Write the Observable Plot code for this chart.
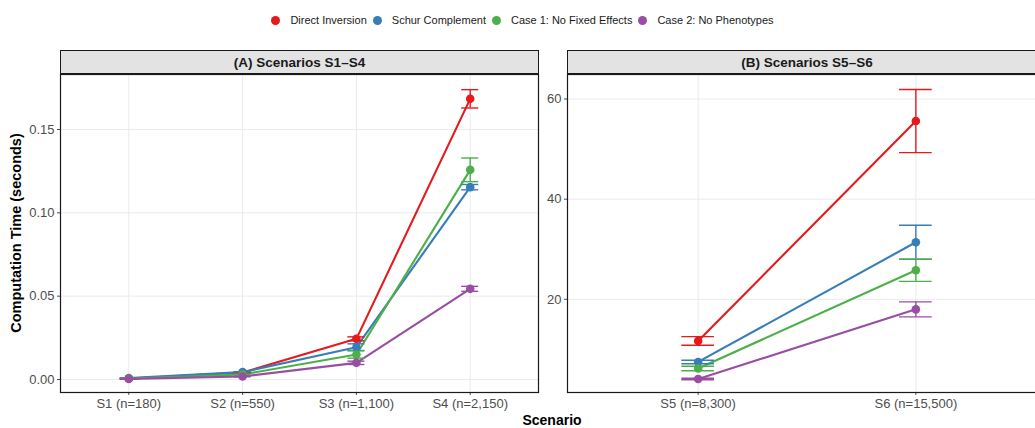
<!DOCTYPE html>
<html>
<head>
<meta charset="utf-8">
<script src="https://cdn.jsdelivr.net/npm/d3@7"></script>
<script src="https://cdn.jsdelivr.net/npm/@observablehq/plot@0.6"></script>
<style>
  html, body { margin: 0; padding: 0; background: #fff; }
  #wrap { position: relative; width: 1035px; height: 428px; overflow: hidden; font-family: "Liberation Sans", Arial, Helvetica, sans-serif; }
  .abs { position: absolute; }
  .strip { position: absolute; box-sizing: border-box; border: 1.2px solid #1a1a1a; background: #E3E3E3; font-weight: bold; font-size: 13.5px; color: #1a1a1a; display: flex; align-items: center; justify-content: center; }
  #legend { position: absolute; top: 14px; left: 10px; width: 1025px; display: flex; justify-content: center; align-items: center; font-size: 11px; color: #1a1a1a; }
  .li { display: flex; align-items: center; margin: 0 3px; }
  .dot { width: 9px; height: 9px; border-radius: 50%; margin-right: 10px; }
</style>
</head>
<body>
<div id="wrap"></div>
<script>
const methods = ["Direct Inversion", "Schur Complement", "Case 1: No Fixed Effects", "Case 2: No Phenotypes"];
const colors = ["#E41A1C", "#377EB8", "#4DAF4A", "#984EA3"];

const scenariosA = ["S1 (n=180)", "S2 (n=550)", "S3 (n=1,100)", "S4 (n=2,150)"];
const scenariosB = ["S5 (n=8,300)", "S6 (n=15,500)"];

// mean computation time (seconds), per method, per scenario
const meanA_direct = [0.0005, 0.0042, 0.0244, 0.1684];
const meanA_schur  = [0.0008, 0.0044, 0.0194, 0.1154];
const meanA_case1  = [0.0006, 0.0030, 0.0150, 0.1258];
const meanA_case2  = [0.0004, 0.0018, 0.0100, 0.0544];
// error bar half-widths
const errA_direct = [0.0002, 0.0003, 0.0012, 0.0055];
const errA_schur  = [0.0002, 0.0003, 0.0020, 0.0016];
const errA_case1  = [0.0001, 0.0002, 0.0022, 0.0071];
const errA_case2  = [0.0001, 0.0002, 0.0010, 0.0015];

const meanB_direct = [11.7, 55.6];
const meanB_schur  = [7.5, 31.4];
const meanB_case1  = [6.2, 25.8];
const meanB_case2  = [4.1, 18.0];
const errB_direct = [0.85, 6.3];
const errB_schur  = [0.35, 3.4];
const errB_case1  = [0.45, 2.2];
const errB_case2  = [0.15, 1.5];

const yTicksA = [0, 0.05, 0.10, 0.15];
const yTicksB = [20, 40, 60];

function rows(means, errs) {
  const out = [];
  means.forEach((arr, m) => arr.forEach((v, i) => out.push({
    method: methods[m], i, y: v, lo: v - errs[m][i], hi: v + errs[m][i]
  })));
  return out;
}
const dataA = rows([meanA_direct, meanA_schur, meanA_case1, meanA_case2], [errA_direct, errA_schur, errA_case1, errA_case2]);
const dataB = rows([meanB_direct, meanB_schur, meanB_case1, meanB_case2], [errB_direct, errB_schur, errB_case1, errB_case2]);

const font = '"Liberation Sans", Arial, Helvetica, sans-serif';

function panel(data, cats, yDomain, yTicks, fmt, opts) {
  const n = cats.length;
  const idx = d3.range(n);
  const cap = 0.075;
  return Plot.plot({
    width: opts.width, height: 356,
    marginTop: 2, marginBottom: 36, marginLeft: opts.marginLeft, marginRight: opts.marginRight,
    style: { background: "transparent", fontFamily: font, fontSize: "13px", color: "#4D4D4D", overflow: "visible" },
    x: { domain: [-0.6, n - 0.4], ticks: idx, tickFormat: i => cats[i], label: null, tickSize: 3, tickPadding: 3 },
    y: { domain: yDomain, ticks: yTicks, tickFormat: fmt, label: null, tickSize: 3, tickPadding: 3 },
    color: { domain: methods, range: colors },
    marks: [
      Plot.gridX(idx, { stroke: "#EBEBEB", strokeOpacity: 1, strokeWidth: 1 }),
      Plot.gridY(yTicks, { stroke: "#EBEBEB", strokeOpacity: 1, strokeWidth: 1 }),
      Plot.line(data, { x: "i", y: "y", z: "method", stroke: "method", strokeWidth: 2.1 }),
      Plot.ruleX(data, { x: "i", y1: "lo", y2: "hi", stroke: "method", strokeWidth: 1.4 }),
      Plot.ruleY(data, { y: "lo", x1: d => d.i - cap, x2: d => d.i + cap, stroke: "method", strokeWidth: 1.4 }),
      Plot.ruleY(data, { y: "hi", x1: d => d.i - cap, x2: d => d.i + cap, stroke: "method", strokeWidth: 1.4 }),
      Plot.dot(data, { x: "i", y: "y", fill: "method", r: 4.3 }),
      Plot.frame({ stroke: "#1a1a1a", strokeWidth: 1.2 })
    ]
  });
}

const wrap = document.getElementById("wrap");

// legend
const legend = document.createElement("div");
legend.id = "legend";
methods.forEach((m, k) => {
  const li = document.createElement("div");
  li.className = "li";
  const d = document.createElement("span");
  d.className = "dot";
  d.style.background = colors[k];
  const t = document.createElement("span");
  t.textContent = m;
  li.appendChild(d); li.appendChild(t);
  legend.appendChild(li);
});
wrap.appendChild(legend);

// strips
function strip(text, left, width) {
  const s = document.createElement("div");
  s.className = "strip";
  s.style.left = left + "px";
  s.style.top = "50px";
  s.style.width = width + "px";
  s.style.height = "24px";
  s.textContent = text;
  wrap.appendChild(s);
}
strip("(A) Scenarios S1–S4", 60, 479);
strip("(B) Scenarios S5–S6", 567, 480);

const pA = panel(dataA, scenariosA, [-0.0078, 0.183], yTicksA, d3.format(".2f"), { width: 545, marginLeft: 60, marginRight: 7 });
pA.style.position = "absolute"; pA.style.left = "0px"; pA.style.top = "72px";
wrap.appendChild(pA);

const pB = panel(dataB, scenariosB, [1.4, 64.9], yTicksB, d3.format("d"), { width: 519, marginLeft: 37, marginRight: 3 });
pB.style.position = "absolute"; pB.style.left = "530px"; pB.style.top = "72px";
wrap.appendChild(pB);

// axis titles
const yt = document.createElement("div");
yt.className = "abs";
yt.textContent = "Computation Time (seconds)";
Object.assign(yt.style, { left: "16px", top: "233px", transform: "translate(-50%, -50%) rotate(-90deg)", whiteSpace: "nowrap", fontWeight: "bold", fontSize: "14.5px", lineHeight: "16px", color: "#000" });
wrap.appendChild(yt);

const xt = document.createElement("div");
xt.className = "abs";
xt.textContent = "Scenario";
Object.assign(xt.style, { left: "552px", top: "420px", transform: "translate(-50%, -50%)", whiteSpace: "nowrap", fontWeight: "bold", fontSize: "14px", lineHeight: "15px", color: "#000" });
wrap.appendChild(xt);
</script>
</body>
</html>
